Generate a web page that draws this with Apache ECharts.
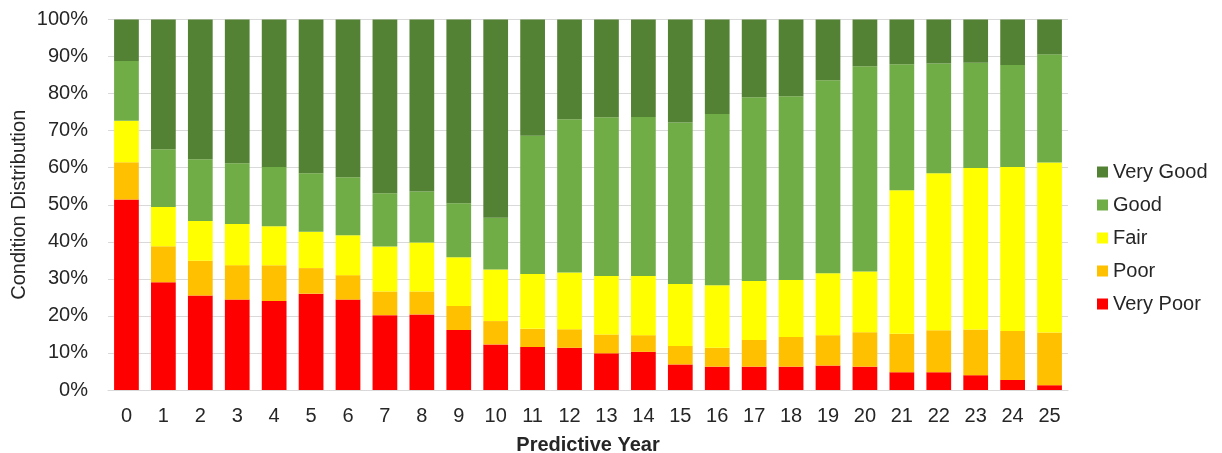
<!DOCTYPE html>
<html>
<head>
<meta charset="utf-8">
<title>Condition Distribution by Predictive Year</title>
<script src="https://cdn.jsdelivr.net/npm/echarts@6/dist/echarts.min.js"></script>
<style>
  html, body { margin: 0; padding: 0; background: #ffffff; }
  #chart { width: 1222px; height: 453px; }
</style>
</head>
<body>
<div id="chart"></div>
<script>
// Predictive years on the x axis
const years = ['0','1','2','3','4','5','6','7','8','9','10','11','12','13','14','15','16','17','18','19','20','21','22','23','24','25'];

// Share of network in each condition class (%), per year
const veryPoor = [51.4,29.1,25.5,24.4,24.0,26.0,24.4,20.2,20.4,16.2,12.3,11.6,11.4,9.9,10.3,6.9,6.3,6.3,6.3,6.6,6.3,4.8,4.8,4.0,2.7,1.3];
const poor     = [10.1,9.7,9.4,9.3,9.7,6.9,6.6,6.4,6.2,6.5,6.3,4.9,5.0,5.1,4.5,5.0,5.1,7.2,8.0,8.2,9.3,10.4,11.3,12.3,13.2,14.2];
const fair     = [11.2,10.6,10.7,11.1,10.5,9.8,10.8,12.1,13.2,13.1,13.9,14.8,15.3,15.8,16.0,16.7,16.9,15.9,15.4,16.7,16.4,38.7,42.4,43.6,44.3,45.9];
const good     = [16.1,15.6,16.7,16.4,16.0,15.8,15.6,14.4,13.8,14.6,14.0,37.3,41.4,42.8,42.9,43.6,46.2,49.6,49.6,52.1,55.4,34.0,29.6,28.4,27.5,29.2];
const veryGood = [11.2,35.0,37.7,38.8,39.8,41.5,42.6,46.9,46.4,49.6,53.5,31.4,26.9,26.4,26.3,27.8,25.5,21.0,20.7,16.4,12.6,12.1,11.9,11.7,12.3,9.4];

// Stack order bottom to top
const classes = [
  { name: 'Very Poor', data: veryPoor, color: '#FF0000' },
  { name: 'Poor',      data: poor,     color: '#FFC000' },
  { name: 'Fair',      data: fair,     color: '#FFFF00' },
  { name: 'Good',      data: good,     color: '#70AD47' },
  { name: 'Very Good', data: veryGood, color: '#548235' }
];

const fontFamily = "'Liberation Sans', Arial, sans-serif";
const textColor = '#262626';
const fontSize = 20;

const chart = echarts.init(document.getElementById('chart'), null, { renderer: 'canvas' });

chart.setOption({
  animation: false,
  backgroundColor: '#ffffff',
  textStyle: { fontFamily: fontFamily, color: textColor },
  grid: {
    left: 108, right: 154, top: 19.5, bottom: 63,
    containLabel: false,
    outerBoundsMode: 'none'
  },
  legend: {
    orient: 'vertical',
    left: 1092,
    top: 157,
    itemWidth: 11,
    itemHeight: 11,
    itemGap: 13,
    icon: 'rect',
    data: ['Very Good', 'Good', 'Fair', 'Poor', 'Very Poor'],
    textStyle: { fontFamily: fontFamily, fontSize: fontSize, color: textColor }
  },
  xAxis: {
    type: 'category',
    data: years,
    name: 'Predictive Year',
    nameLocation: 'middle',
    nameGap: 45,
    nameMoveOverlap: false,
    nameTextStyle: { fontFamily: fontFamily, fontSize: fontSize, fontWeight: 'bold', color: textColor },
    axisLine: { show: true, lineStyle: { color: '#D9D9D9', width: 1 } },
    axisTick: { show: false },
    axisLabel: { fontFamily: fontFamily, fontSize: fontSize, color: textColor, margin: 16, interval: 0 }
  },
  yAxis: {
    type: 'value',
    min: 0,
    max: 100,
    interval: 10,
    name: 'Condition Distribution',
    nameLocation: 'middle',
    nameGap: 79,
    nameMoveOverlap: false,
    nameTextStyle: { fontFamily: fontFamily, fontSize: fontSize, color: textColor },
    axisLine: { show: false },
    axisTick: { show: false },
    axisLabel: { fontFamily: fontFamily, fontSize: fontSize, color: textColor, margin: 20, formatter: '{value}%' },
    splitLine: { show: true, lineStyle: { color: '#D9D9D9', width: 1 } }
  },
  series: classes.map(c => ({
    name: c.name,
    type: 'bar',
    stack: 'condition',
    data: c.data,
    barCategoryGap: '33%',
    itemStyle: { color: c.color },
    emphasis: { disabled: true }
  }))
});
</script>
</body>
</html>
